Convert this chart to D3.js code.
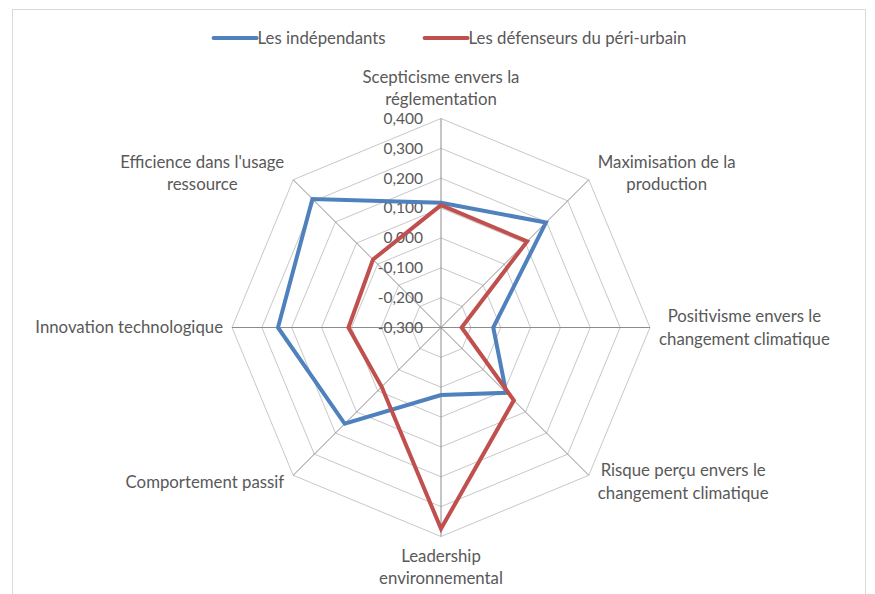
<!DOCTYPE html>
<html>
<head>
<meta charset="utf-8">
<script src="https://cdn.jsdelivr.net/npm/d3@7"></script>
<style>
  body { margin: 0; background: #fff; }
  text { font-family: Lato, "Open Sans", sans-serif; fill: #595959; }
</style>
</head>
<body>
<svg id="Chartsvg" width="875" height="594"></svg>
<script>
// axes, clockwise from the top
var categories = [
    ["Scepticisme envers la", "réglementation"],
    ["Maximisation de la", "production"],
    ["Positivisme envers le", "changement climatique"],
    ["Risque perçu envers le", "changement climatique"],
    ["Leadership", "environnemental"],
    ["Comportement passif"],
    ["Innovation technologique"],
    ["Efficience dans l'usage", "ressource"]
];
var seriesNames = ["Les indépendants", "Les défenseurs du péri-urbain"];
var independants = [0.118, 0.197, -0.125, 0.009, -0.074, 0.156, 0.246, 0.309];
var defenseurs = [0.110, 0.108, -0.231, 0.045, 0.374, -0.019, 0.010, 0.022];
var ticks = [-0.3, -0.2, -0.1, 0, 0.1, 0.2, 0.3, 0.4];

var svg = d3.select("#Chartsvg"),
    width = +svg.attr("width"),
    height = +svg.attr("height"),
    cx = 441, cy = 327.5,
    radius = 209;

var colors = ["#4F81BD", "#C0504D"];
var fontSize = 16.8, tickSize = 15.5, lineH = 22.5;

// chart frame
svg.append("rect")
    .attr("x", 12.5).attr("y", 9.5)
    .attr("width", 853).attr("height", 600)
    .attr("fill", "#fff")
    .attr("stroke", "#d9d9d9")
    .attr("stroke-width", 1);

var n = categories.length;
var angle = d3.scaleLinear().domain([0, n]).range([0, 2 * Math.PI]);
var r = d3.scaleLinear().domain([-0.3, 0.4]).range([0, radius]);

function pt(i, v) {
    var a = angle(i);
    return [cx + r(v) * Math.sin(a), cy - r(v) * Math.cos(a)];
}

var g = svg.append("g");

// rings
g.selectAll(".ring")
    .data(ticks.slice(1))
    .enter().append("polygon")
    .attr("class", "ring")
    .attr("points", function(t) { return d3.range(n).map(function(i) { return pt(i, t).join(","); }).join(" "); })
    .attr("fill", "none")
    .attr("stroke", "#c8c8c8")
    .attr("stroke-width", 1);

// spokes
g.selectAll(".spoke")
    .data(d3.range(n))
    .enter().append("line")
    .attr("class", "spoke")
    .attr("x1", cx).attr("y1", cy)
    .attr("x2", function(i) { return pt(i, 0.4)[0]; })
    .attr("y2", function(i) { return pt(i, 0.4)[1]; })
    .attr("stroke", "#8c8c8c")
    .attr("stroke-width", 1);

// tick labels along the top axis
var fmt = function(t) { return d3.format(".3f")(t).replace(".", ",").replace("−", "-"); };
g.selectAll(".tick")
    .data(ticks)
    .enter().append("text")
    .attr("class", "tick")
    .attr("x", cx - 18)
    .attr("y", function(t) { return pt(0, t)[1]; })
    .attr("dy", "0.35em")
    .attr("text-anchor", "end")
    .style("font-size", tickSize + "px")
    .text(fmt);

// series
var line = d3.line().curve(d3.curveLinearClosed);
[independants, defenseurs].forEach(function(vals, k) {
    g.append("path")
        .datum(vals.map(function(v, i) { return pt(i, v); }))
        .attr("d", line)
        .attr("fill", "none")
        .attr("stroke", colors[k])
        .attr("stroke-width", 4)
        .attr("stroke-linejoin", "miter");
});

// category labels
categories.forEach(function(lines, i) {
    var a = angle(i), s = Math.sin(a), c = Math.cos(a);
    var end = pt(i, 0.4);
    var t = g.append("text")
        .attr("text-anchor", "middle")
        .style("font-size", fontSize + "px");
    lines.forEach(function(l, j) {
        t.append("tspan").attr("x", 0).attr("y", j * lineH).attr("dy", "0.35em").text(l);
    });
    var w = d3.max(t.selectAll("tspan").nodes(), function(nd) { return nd.getComputedTextLength(); });
    var h = lines.length * lineH;
    var bx, by;
    if (Math.abs(s) < 0.1) {
        bx = end[0];
        by = c > 0 ? end[1] - 8 - h / 2 : end[1] + 8 + h / 2;
    } else {
        bx = end[0] + (s > 0 ? 1 : -1) * (9 + w / 2);
        by = end[1] - c * 9;
    }
    t.attr("transform", "translate(" + bx + "," + (by - (lines.length - 1) * lineH / 2) + ")");
});

// legend
var leg = svg.append("g");
var x = 0;
seriesNames.forEach(function(name, k) {
    leg.append("line")
        .attr("x1", x).attr("x2", x + 43)
        .attr("y1", 0).attr("y2", 0)
        .attr("stroke", colors[k])
        .attr("stroke-width", 4)
        .attr("stroke-linecap", "round");
    var tx = leg.append("text")
        .attr("x", x + 44)
        .attr("dy", "0.35em")
        .style("font-size", fontSize + "px")
        .text(name);
    x += 44 + tx.node().getComputedTextLength() + 39;
});
var legW = x - 39;
leg.attr("transform", "translate(" + (450 - legW / 2) + ",38)");
</script>
</body>
</html>
